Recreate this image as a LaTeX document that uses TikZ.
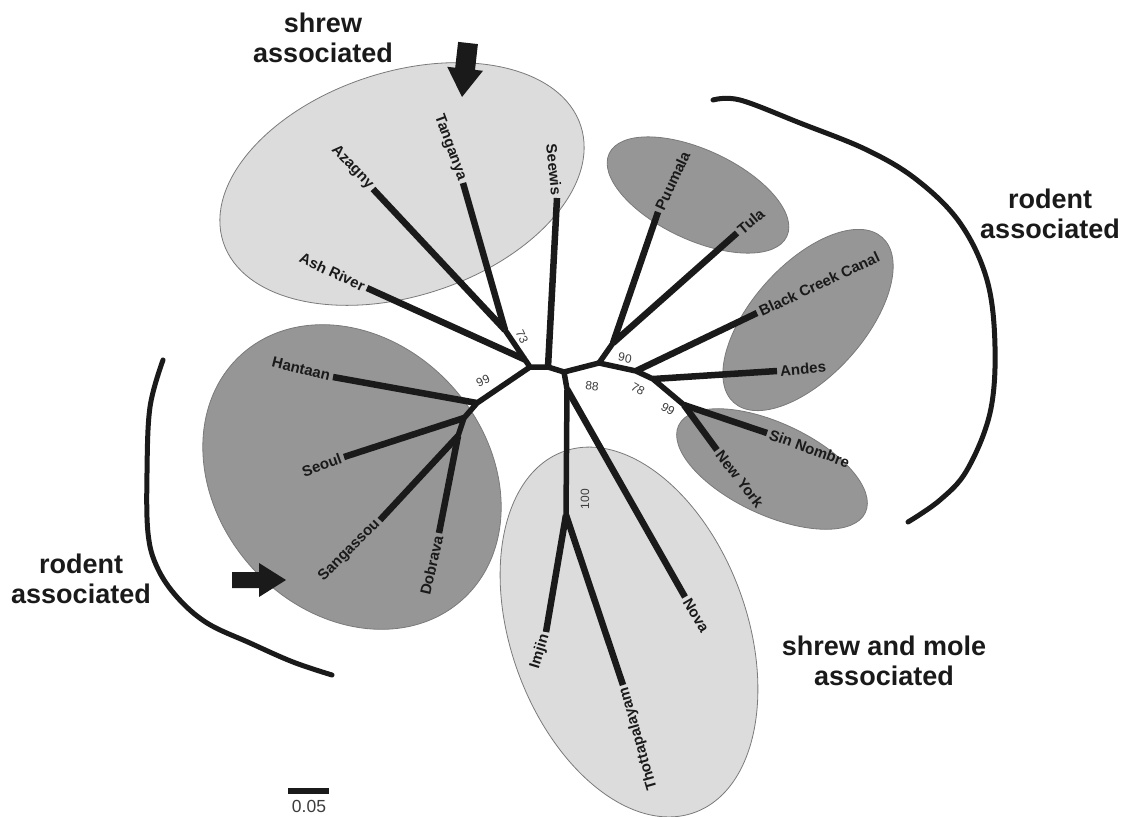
\documentclass[tikz,border=0pt]{standalone}
\usepackage{fontspec}
\setmainfont{Liberation Sans}
\usetikzlibrary{calc}
\definecolor{ink}{HTML}{1A1A1A}
\definecolor{lightg}{HTML}{DCDCDC}
\definecolor{darkg}{HTML}{969696}
\definecolor{edgeg}{HTML}{7A7A7A}
\begin{document}
\begin{tikzpicture}[x=1pt,y=-1pt,
  br/.style={line width=6.5pt, color=ink},
  bb/.style={line width=5.5pt, color=ink, line join=round},
  tip/.style={font=\fontsize{15}{18}\selectfont\bfseries, inner sep=3pt, text=ink},
  boot/.style={font=\fontsize{12}{14}\selectfont, inner sep=0pt, text=ink!85},
  grp/.style={font=\fontsize{27}{30}\selectfont\bfseries, align=center, inner sep=0pt, text=ink, anchor=north},
  light/.style={fill=lightg, draw=edgeg, line width=0.8pt},
  dark/.style={fill=darkg, draw=edgeg, line width=0.8pt},
  bracket/.style={line width=5pt, color=ink, line cap=round},
]
\useasboundingbox (0,0) rectangle (1126,816);

% ---- clade ellipses ----
\draw[light, rotate around={18:(402,184)}] (402,184) ellipse [x radius=188, y radius=112];
\draw[dark, rotate around={-25:(698,195)}] (698,195) ellipse [x radius=98, y radius=45];
\draw[dark, rotate around={48:(808,320)}] (808,320) ellipse [x radius=111, y radius=56];
\draw[dark, rotate around={-25:(772,469)}] (772,469) ellipse [x radius=103, y radius=46];
\draw[dark, rotate around={-48:(352,477)}] (352,477) ellipse [x radius=165, y radius=135];
\draw[light, rotate around={-70:(629,632)}] (629,632) ellipse [x radius=192, y radius=118];

% ---- brackets ----
\draw[bracket] plot[smooth, tension=0.6] coordinates {(713,100) (740,100) (800,123) (867,150) (917,180) (960,223) (987,280) (995,347) (990,413) (967,470) (940,500) (908,522)};
\draw[bracket] plot[smooth, tension=0.6] coordinates {(163,360) (150,407) (147,473) (148,533) (157,567) (177,597) (207,623) (250,643) (293,662) (332,675)};

% ---- arrows ----
\fill[ink] (477.9,44.1) -- (475.0,69.9) -- (483.0,70.8) -- (462,97) -- (447.2,66.8) -- (455.2,67.7) -- (458.1,41.9) -- cycle;
\fill[ink] (232,572) -- (259,572) -- (259,563) -- (286,580) -- (259,597) -- (259,588) -- (232,588) -- cycle;

% ---- internal nodes ----
\coordinate (A) at (530,367);
\coordinate (B) at (548,367);
\coordinate (C) at (564,372);
\coordinate (D) at (567,389);
\coordinate (I) at (566,515);
\coordinate (E) at (599,363);
\coordinate (H) at (613,343);
\coordinate (F) at (636,371);
\coordinate (G) at (653,379);
\coordinate (K) at (684,405);
\coordinate (N73) at (505,330);
\coordinate (N99) at (477,403);
\coordinate (S1) at (464,418);
\coordinate (S2) at (458,436);
\coordinate (AR) at ($(N73)!0.8!(A)$);

% ---- tips ----
\coordinate (tAsh) at (367,288);
\coordinate (tAz) at (373,189);
\coordinate (tTan) at (463,183);
\coordinate (tSee) at (557,198);
\coordinate (tHan) at (333,377);
\coordinate (tSeo) at (344,457);
\coordinate (tSan) at (380,520);
\coordinate (tDob) at (439,533);
\coordinate (tPuu) at (658,212);
\coordinate (tTul) at (737,233);
\coordinate (tBcc) at (757,313);
\coordinate (tAnd) at (777,371);
\coordinate (tSN) at (767,433);
\coordinate (tNY) at (717,450);
\coordinate (tNova) at (685,597);
\coordinate (tImj) at (546,632);
\coordinate (tTho) at (623,685);

% ---- backbone ----
\draw[bb] (N73) -- (A) -- (B) -- (C) -- (E) -- (F) -- (G) -- (K);
\draw[bb] (A) -- (N99) -- (S1) -- (S2);
\draw[bb] (C) -- (D) -- (I);
\draw[bb] (E) -- (H);

% ---- terminal branches ----
\draw[br] (AR) -- (tAsh);
\draw[br] (N73) -- (tAz);
\draw[br] (N73) -- (tTan);
\draw[br] (B) -- (tSee);
\draw[br] (N99) -- (tHan);
\draw[br] (S1) -- (tSeo);
\draw[br] (S2) -- (tSan);
\draw[br] (S2) -- (tDob);
\draw[br] (H) -- (tPuu);
\draw[br] (H) -- (tTul);
\draw[br] (F) -- (tBcc);
\draw[br] (G) -- (tAnd);
\draw[br] (K) -- (tSN);
\draw[br] (K) -- (tNY);
\draw[br] (D) -- (tNova);
\draw[br] (I) -- (tImj);
\draw[br] (I) -- (tTho);

% ---- tip labels ----
\node[tip, anchor=east, rotate=-25] (lAsh) at (tAsh) {Ash River};
\node[tip, anchor=east, rotate=-46] (lAz) at (tAz) {Azagny};
\node[tip, anchor=east, rotate=-70] (lTan) at (tTan) {Tanganya};
\node[tip, anchor=east, rotate=-84] (lSee) at (tSee) {Seewis};
\node[tip, anchor=east, rotate=-14] (lHan) at (tHan) {Hantaan};
\node[tip, anchor=east, rotate=20] (lSeo) at (tSeo) {Seoul};
\node[tip, anchor=east, rotate=45] (lSan) at (tSan) {Sangassou};
\node[tip, anchor=east, rotate=77] (lDob) at (tDob) {Dobrava};
\node[tip, anchor=west, rotate=65] (lPuu) at (tPuu) {Puumala};
\node[tip, anchor=west, rotate=40] (lTul) at (tTul) {Tula};
\node[tip, anchor=west, rotate=25] (lBcc) at (tBcc) {Black Creek Canal};
\node[tip, anchor=west, rotate=5] (lAnd) at (tAnd) {Andes};
\node[tip, anchor=west, rotate=-20] (lSN) at (tSN) {Sin Nombre};
\node[tip, anchor=west, rotate=-52] (lNY) at (tNY) {New York};
\node[tip, anchor=west, rotate=-59] (lNova) at (tNova) {Nova};
\node[tip, anchor=east, rotate=73] (lImj) at (tImj) {Imjin};
\node[tip, anchor=east, rotate=106] (lTho) at (tTho) {Thottapalayam};

% ---- bootstrap values ----
\node[boot, rotate=-65] (b73) at (522,337) {73};
\node[boot, rotate=25] (b99a) at (483,381) {99};
\node[boot, rotate=-5] (b88) at (592,386) {88};
\node[boot, rotate=-10] (b90) at (625,358) {90};
\node[boot, rotate=-30] (b78) at (638,389) {78};
\node[boot, rotate=-30] (b99b) at (668,409) {99};
\node[boot, rotate=90] (b100) at (585,499) {100};

% ---- group labels ----
\node[grp] (gShrew) at (323,12.5) {shrew\\associated};
\node[grp] (gRodR) at (1050,188.5) {rodent\\associated};
\node[grp] (gRodL) at (81,553.5) {rodent\\associated};
\node[grp] (gMole) at (884,635.5) {shrew and mole\\associated};

% ---- scale bar ----
\coordinate (sbL) at (288,791);
\coordinate (sbR) at (329,791);
\draw[line width=6pt, ink] (sbL) -- (sbR);
\node[font=\fontsize{17.5}{20}\selectfont, anchor=base, inner sep=0pt, text=ink!85] (sbt) at (309,812) {0.05};
\end{tikzpicture}
\end{document}
